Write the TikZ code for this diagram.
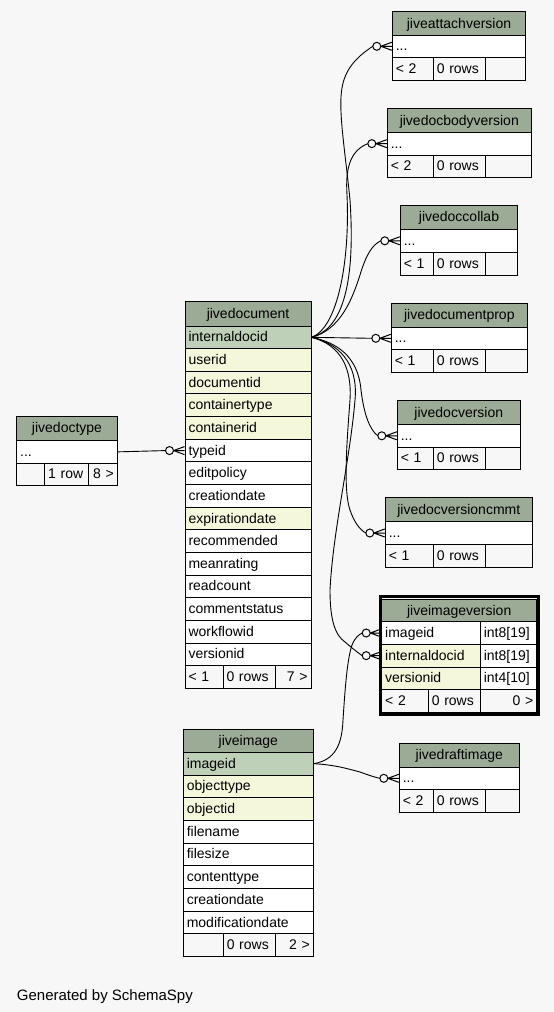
\documentclass[tikz,border=0pt]{standalone}
\usepackage{fontspec}
\setmainfont{Liberation Sans}
\usetikzlibrary{calc}
\definecolor{bg}{HTML}{F7F7F7}
\definecolor{ttl}{HTML}{9BAB96}
\definecolor{keyc}{HTML}{BED1B8}
\definecolor{idx}{HTML}{F4F7DA}
\newcommand\tcell[8]{%
 \pgfmathsetmacro\tcW{#4-(#2)}%
 \pgfmathsetmacro\tcH{#5-(#3)}%
 \pgfmathsetmacro\tcT{\tcW-7}%
 \pgfmathsetmacro\tcX{(#2+#4)/2}%
 \pgfmathsetmacro\tcY{(#3+#5)/2}%
 \node[cellst,fill=#6,minimum width=\tcW pt,minimum height=\tcH pt,text width=\tcT pt,align=#7] (#1) at (\tcX,\tcY) {#8};}
\newcommand\smalltab[9]{%
 \tcell{#1T}{#2}{#4}{#3}{#5}{ttl}{center}{#8}%
 \tcell{#1R}{#2}{#5}{#3}{#6}{white}{left}{...}%
 \tcell{#1Fa}{#2}{#6}{433.3}{#7}{bg}{left}{#9}%
 \tcell{#1Fb}{433.3}{#6}{485.3}{#7}{bg}{left}{0 rows}%
 \tcell{#1Fc}{485.3}{#6}{#3}{#7}{bg}{left}{}}
\tikzset{
 cellst/.style={draw=black,line width=1pt,inner xsep=3.5pt,inner ysep=0pt,text height=11.5pt,text depth=2.5pt,font=\fontsize{14}{16}\selectfont},
 conn/.style={line width=0.9pt},
 crowfoot/.pic={\draw[line width=1pt] (-11,0) -- (0,4) (-11,0) -- (0,0) (-11,0) -- (0,-4);
   \draw[line width=1pt,fill=bg] (-15,0) circle [radius=4pt];}
}
\begin{document}
\begin{tikzpicture}[x=1pt,y=-1pt]
\fill[bg] (0,0) rectangle (554,1012);
\useasboundingbox (0,0) rectangle (554,1012);

% jivedoctype
\tcell{dtT}{16.7}{416}{117.3}{440.7}{ttl}{center}{jivedoctype}
\tcell{dtR}{16.7}{440.7}{117.3}{463}{white}{left}{...}
\tcell{dtFa}{16.7}{463}{44.7}{485.5}{bg}{left}{}
\tcell{dtFb}{44.7}{463}{88.3}{485.5}{bg}{left}{1 row}
\tcell{dtFc}{88.3}{463}{117.3}{485.5}{bg}{right}{8 >}

% jivedocument
\tcell{jdT}{185}{301.5}{311}{326}{ttl}{center}{jivedocument}
\tcell{jdA}{185}{326}{311}{348.65}{keyc}{left}{internaldocid}
\tcell{jdB}{185}{348.65}{311}{371.3}{idx}{left}{userid}
\tcell{jdC}{185}{371.3}{311}{393.95}{idx}{left}{documentid}
\tcell{jdD}{185}{393.95}{311}{416.6}{idx}{left}{containertype}
\tcell{jdE}{185}{416.6}{311}{439.25}{idx}{left}{containerid}
\tcell{jdF}{185}{439.25}{311}{461.9}{white}{left}{typeid}
\tcell{jdG}{185}{461.9}{311}{484.55}{white}{left}{editpolicy}
\tcell{jdH}{185}{484.55}{311}{507.2}{white}{left}{creationdate}
\tcell{jdI}{185}{507.2}{311}{529.85}{idx}{left}{expirationdate}
\tcell{jdJ}{185}{529.85}{311}{552.5}{white}{left}{recommended}
\tcell{jdK}{185}{552.5}{311}{575.15}{white}{left}{meanrating}
\tcell{jdL}{185}{575.15}{311}{597.8}{white}{left}{readcount}
\tcell{jdM}{185}{597.8}{311}{620.45}{white}{left}{commentstatus}
\tcell{jdN}{185}{620.45}{311}{643.1}{white}{left}{workflowid}
\tcell{jdO}{185}{643.1}{311}{665.75}{white}{left}{versionid}
\tcell{jdFa}{185}{665.75}{223}{688.4}{bg}{left}{< 1}
\tcell{jdFb}{223}{665.75}{275}{688.4}{bg}{left}{0 rows}
\tcell{jdFc}{275}{665.75}{311}{688.4}{bg}{right}{7 >}

% jiveimage
\tcell{jiT}{183.3}{729.3}{313.3}{752.3}{ttl}{center}{jiveimage}
\tcell{jiA}{183.3}{752.3}{313.3}{775}{keyc}{left}{imageid}
\tcell{jiB}{183.3}{775}{313.3}{797.7}{idx}{left}{objecttype}
\tcell{jiC}{183.3}{797.7}{313.3}{820.4}{idx}{left}{objectid}
\tcell{jiD}{183.3}{820.4}{313.3}{843.1}{white}{left}{filename}
\tcell{jiE}{183.3}{843.1}{313.3}{865.8}{white}{left}{filesize}
\tcell{jiF}{183.3}{865.8}{313.3}{888.5}{white}{left}{contenttype}
\tcell{jiG}{183.3}{888.5}{313.3}{911.2}{white}{left}{creationdate}
\tcell{jiH}{183.3}{911.2}{313.3}{933.9}{white}{left}{modificationdate}
\tcell{jiFa}{183.3}{933.9}{223.3}{956.6}{bg}{left}{}
\tcell{jiFb}{223.3}{933.9}{275.3}{956.6}{bg}{left}{0 rows}
\tcell{jiFc}{275.3}{933.9}{313.3}{956.6}{bg}{right}{2 >}

% jiveimageversion
\tcell{ivT}{381.7}{599.3}{536.7}{621.7}{ttl}{center}{jiveimageversion}
\tcell{ivA}{381.7}{621.7}{480.3}{644.3}{white}{left}{imageid}
\tcell{ivAt}{480.3}{621.7}{536.7}{644.3}{white}{left}{int8[19]}
\tcell{ivB}{381.7}{644.3}{480.3}{667}{idx}{left}{internaldocid}
\tcell{ivBt}{480.3}{644.3}{536.7}{667}{white}{left}{int8[19]}
\tcell{ivC}{381.7}{667}{480.3}{689.5}{idx}{left}{versionid}
\tcell{ivCt}{480.3}{667}{536.7}{689.5}{white}{left}{int4[10]}
\tcell{ivFa}{381.7}{689.5}{428.3}{712}{bg}{left}{< 2}
\tcell{ivFb}{428.3}{689.5}{480.3}{712}{bg}{left}{0 rows}
\tcell{ivFc}{480.3}{689.5}{536.7}{712}{bg}{right}{0 >}
\draw[line width=3pt] (ivT.north west) ++(-0.9,-2.5) rectangle ($(ivFc.south east)+(1.1,1.8)$);

% small tables
\smalltab{av}{392.3}{525.7}{11.7}{35.3}{57.3}{80.3}{jiveattachversion}{< 2}
\smalltab{bv}{387.3}{531.3}{108.7}{132.3}{155}{177.3}{jivedocbodyversion}{< 2}
\smalltab{dc}{400.3}{517.7}{205.3}{229.3}{252.3}{275.3}{jivedoccollab}{< 1}
\smalltab{dp}{391.3}{527.3}{303.3}{327.3}{349.3}{372.7}{jivedocumentprop}{< 1}
\smalltab{dv}{397.3}{520.3}{400.7}{424.3}{447.3}{469.3}{jivedocversion}{< 1}
\smalltab{dm}{385.3}{532.3}{497.7}{521.7}{544.3}{567}{jivedocversioncmmt}{< 1}
\smalltab{di}{399.3}{519.3}{743.3}{767.3}{789.3}{812.3}{jivedraftimage}{< 2}

% connectors
\draw[conn] (jdA.east) .. controls (340,330) and (356,290) .. (350,200)
  .. controls (345,150) and (338,110) .. (342,88)
  .. controls (345,70) and (355,58) .. ([xshift=-19pt]avR.west);
\draw[conn] (jdA.east) .. controls (338,328) and (350,260) .. (347,195)
  .. controls (345,165) and (352,150) .. ([xshift=-19pt]bvR.west);
\draw[conn] (jdA.east) .. controls (340,330) and (352,300) .. (360,275)
  .. controls (366,255) and (372,245) .. ([xshift=-19pt]dcR.west);
\draw[conn] (jdA.east) -- ([xshift=-19pt]dpR.west);
\draw[conn] (jdA.east) .. controls (335,342) and (358,355) .. (361,390)
  .. controls (364,415) and (370,430) .. ([xshift=-19pt]dvR.west);
\draw[conn] (jdA.east) .. controls (342,345) and (352,370) .. (350,400)
  .. controls (347,440) and (343,490) .. (350,510)
  .. controls (354,522) and (360,530) .. ([xshift=-19pt]dmR.west);
\draw[conn] (jdA.east) .. controls (345,345) and (358,370) .. (355,400)
  .. controls (350,460) and (333,530) .. (330,590)
  .. controls (330,620) and (335,635) .. (345,642)
  .. controls (352,648) and (357,652) .. ([xshift=-19pt]ivB.west);
\draw[conn] (jiA.east) .. controls (335,760) and (342,745) .. (343,720)
  .. controls (345,690) and (347,660) .. (352,645)
  .. controls (355,638) and (358,635) .. ([xshift=-19pt]ivA.west);
\draw[conn] (jiA.east) .. controls (335,765) and (345,768) .. (360,772)
  .. controls (368,775) and (374,777) .. ([xshift=-19pt]diR.west);
\draw[conn] (dtR.east) -- ([xshift=-19pt]jdF.west);

\pic at (avR.west) {crowfoot};
\pic at (bvR.west) {crowfoot};
\pic at (dcR.west) {crowfoot};
\pic at (dpR.west) {crowfoot};
\pic at (dvR.west) {crowfoot};
\pic at (dmR.west) {crowfoot};
\pic at (ivA.west) {crowfoot};
\pic at (ivB.west) {crowfoot};
\pic at (diR.west) {crowfoot};
\pic at (jdF.west) {crowfoot};

\node[anchor=base west,font=\fontsize{15}{18}\selectfont,inner sep=0] (gen) at (16.7,1000) {Generated by SchemaSpy};
\end{tikzpicture}
\end{document}
